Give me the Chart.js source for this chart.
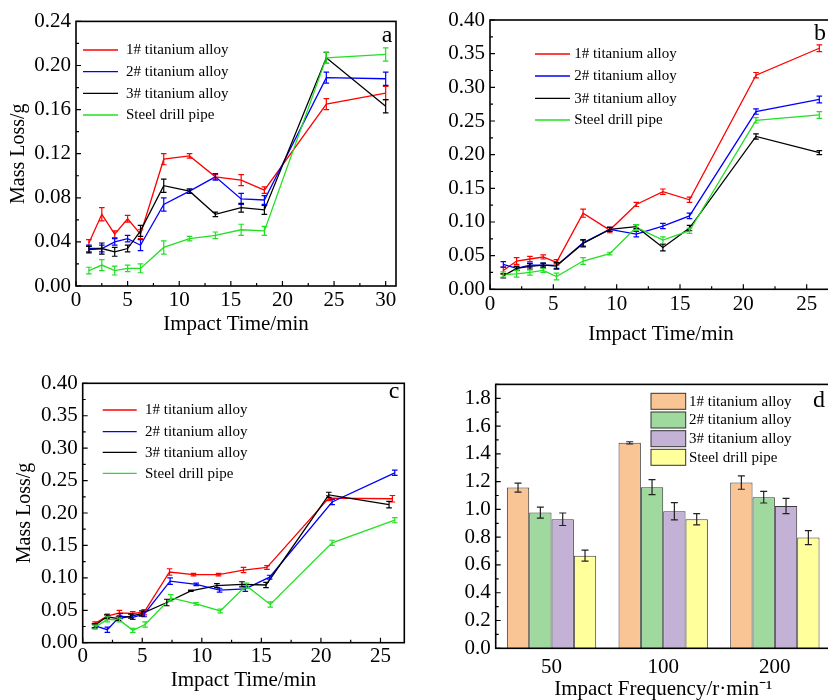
<!DOCTYPE html>
<html>
<head>
<meta charset="utf-8">
<script src="https://cdn.jsdelivr.net/npm/chart.js@4.4.1/dist/chart.umd.min.js"></script>
<style>
html,body{margin:0;padding:0;overflow:hidden;background:#fff;width:828px;height:700px;position:relative}
canvas{position:absolute}
</style>
</head>
<body>
<canvas id="cA" width="420" height="345" style="left:0;top:0"></canvas>
<canvas id="cB" width="430" height="350" style="left:420px;top:0"></canvas>
<canvas id="cC" width="420" height="340" style="left:0;top:360px"></canvas>
<canvas id="cD" width="420" height="345" style="left:430px;top:360px"></canvas>
<script>
// ---------------- DATA ----------------
const seriesNames = ['1# titanium alloy', '2# titanium alloy', '3# titanium alloy', 'Steel drill pipe'];
const lineColors = ['#ff0000', '#0000ff', '#000000', '#22e022'];
const barColors = ['#f9c595', '#9fd99d', '#c4b2d6', '#ffff9c'];

// Panel a
const timeA = [1.25, 2.5, 3.75, 5, 6.25, 8.5, 11, 13.5, 16, 18.25, 24.25, 30];
const lossA1 = [0.039, 0.065, 0.047, 0.061, 0.047, 0.115, 0.118, 0.099, 0.096, 0.087, 0.165, 0.175];
const lossA2 = [0.034, 0.034, 0.040, 0.043, 0.037, 0.074, 0.086, 0.099, 0.079, 0.078, 0.189, 0.188];
const lossA3 = [0.033, 0.034, 0.031, 0.034, 0.050, 0.091, 0.086, 0.065, 0.071, 0.069, 0.207, 0.163];
const lossA4 = [0.014, 0.019, 0.014, 0.016, 0.016, 0.035, 0.043, 0.046, 0.051, 0.050, 0.207, 0.210];
const errA1 = [0.003, 0.006, 0.003, 0.003, 0.004, 0.005, 0.002, 0.002, 0.005, 0.003, 0.005, 0.006];
const errA2 = [0.003, 0.003, 0.003, 0.003, 0.005, 0.006, 0.002, 0.003, 0.005, 0.004, 0.005, 0.006];
const errA3 = [0.003, 0.005, 0.004, 0.003, 0.005, 0.006, 0.002, 0.002, 0.004, 0.004, 0.005, 0.006];
const errA4 = [0.003, 0.005, 0.004, 0.003, 0.004, 0.006, 0.002, 0.003, 0.005, 0.004, 0.005, 0.006];

// Panel b
const timeB = [1.05, 2.1, 3.15, 4.2, 5.25, 7.35, 9.45, 11.55, 13.65, 15.75, 21, 26];
const lossB1 = [0.028, 0.042, 0.045, 0.048, 0.040, 0.113, 0.088, 0.126, 0.145, 0.133, 0.318, 0.358];
const lossB2 = [0.037, 0.031, 0.036, 0.036, 0.035, 0.069, 0.089, 0.082, 0.094, 0.109, 0.264, 0.282];
const lossB3 = [0.020, 0.031, 0.034, 0.036, 0.035, 0.068, 0.089, 0.093, 0.062, 0.091, 0.227, 0.203];
const lossB4 = [0.022, 0.023, 0.025, 0.028, 0.019, 0.042, 0.053, 0.092, 0.073, 0.087, 0.251, 0.259];
const errB1 = [0.005, 0.005, 0.004, 0.003, 0.004, 0.006, 0.004, 0.003, 0.004, 0.004, 0.004, 0.005];
const errB2 = [0.004, 0.003, 0.003, 0.003, 0.004, 0.005, 0.003, 0.004, 0.004, 0.004, 0.004, 0.005];
const errB3 = [0.003, 0.003, 0.004, 0.003, 0.005, 0.005, 0.003, 0.003, 0.005, 0.004, 0.004, 0.003];
const errB4 = [0.004, 0.005, 0.004, 0.003, 0.005, 0.005, 0.002, 0.004, 0.005, 0.004, 0.004, 0.005];

// Panel c
const timeC1 = [1.04, 2.07, 3.08, 4.2, 5.16, 7.29, 9.3, 11.41, 13.5, 15.47, 20.66, 26.0];
const timeC2 = [1.04, 2.07, 3.14, 4.2, 5.16, 7.34, 9.53, 11.49, 13.65, 15.69, 20.94, 26.2];
const timeC3 = [0.98, 2.02, 3.0, 4.04, 4.96, 7.06, 9.08, 11.27, 13.37, 15.39, 20.66, 25.72];
const timeC4 = [1.04, 2.07, 3.08, 4.2, 5.24, 7.4, 9.53, 11.55, 13.73, 15.75, 20.94, 26.2];
const lossC1 = [0.030, 0.041, 0.046, 0.045, 0.047, 0.109, 0.105, 0.105, 0.112, 0.116, 0.223, 0.222];
const lossC2 = [0.026, 0.020, 0.041, 0.039, 0.044, 0.095, 0.090, 0.081, 0.083, 0.101, 0.217, 0.262];
const lossC3 = [0.026, 0.040, 0.037, 0.041, 0.045, 0.062, 0.080, 0.088, 0.090, 0.089, 0.228, 0.213];
const lossC4 = [0.024, 0.036, 0.035, 0.019, 0.028, 0.069, 0.060, 0.049, 0.088, 0.059, 0.154, 0.189];
const errC1 = [0.002, 0.003, 0.004, 0.003, 0.004, 0.005, 0.002, 0.002, 0.004, 0.003, 0.004, 0.005];
const errC2 = [0.003, 0.004, 0.004, 0.003, 0.004, 0.005, 0.002, 0.003, 0.004, 0.003, 0.004, 0.004];
const errC3 = [0.003, 0.003, 0.003, 0.003, 0.004, 0.005, 0.001, 0.003, 0.004, 0.004, 0.004, 0.005];
const errC4 = [0.003, 0.004, 0.003, 0.003, 0.004, 0.005, 0.002, 0.003, 0.004, 0.004, 0.004, 0.004];

// Panel d
const freqLabels = ['50', '100', '200'];
const massD1 = [1.157, 1.479, 1.193];
const massD2 = [0.977, 1.160, 1.088];
const massD3 = [0.929, 0.987, 1.025];
const massD4 = [0.667, 0.929, 0.797];
const errD1 = [0.032, 0.008, 0.048];
const errD2 = [0.040, 0.054, 0.042];
const errD3 = [0.045, 0.062, 0.055];
const errD4 = [0.040, 0.040, 0.050];

const xTitle = 'Impact Time/min';
const yTitle = 'Mass Loss/g';
const xTitleD = 'Impact Frequency/r\u00B7min\u207B\u00B9';

// ---------------- RENDERING ----------------
const FONT = "'Liberation Serif','Times New Roman',serif";
Chart.defaults.font.family = FONT;
Chart.defaults.color = '#000';

const deco = {
  id: 'deco',
  afterDatasetsDraw(chart, args, o) {
    const ctx = chart.ctx;
    chart.data.datasets.forEach((ds, di) => {
      if (!ds.errs) return;
      const meta = chart.getDatasetMeta(di);
      const ys = chart.scales[meta.yAxisID];
      ctx.save();
      ctx.strokeStyle = ds.errColor || ds.borderColor;
      ctx.lineWidth = 1.2;
      ctx.beginPath();
      meta.data.forEach((el, i) => {
        const d = ds.data[i];
        const v = (typeof d === 'object') ? d.y : d;
        const e = ds.errs[i];
        const y1 = ys.getPixelForValue(v + e), y2 = ys.getPixelForValue(v - e);
        const x = el.x, c = o.cap;
        ctx.moveTo(x, y1); ctx.lineTo(x, y2);
        ctx.moveTo(x - c, y1); ctx.lineTo(x + c, y1);
        ctx.moveTo(x - c, y2); ctx.lineTo(x + c, y2);
      });
      ctx.stroke();
      ctx.restore();
    });
  },
  afterDraw(chart, args, o) {
    const ctx = chart.ctx;
    const {left, right, top, bottom} = chart.chartArea;
    const xs = chart.scales.x, ys = chart.scales.y;
    ctx.save();
    ctx.strokeStyle = '#000';
    ctx.lineWidth = 1.6;
    ctx.strokeRect(left, top, right - left, bottom - top);
    ctx.lineWidth = 1.2;
    ctx.beginPath();
    if (o.xMinor) {
      for (let k = 0; ; k++) {
        const v = xs.min + k * o.xMinor;
        if (v > xs.max + 1e-9) break;
        const px = xs.getPixelForValue(v);
        const major = Math.abs(v / o.xMajor - Math.round(v / o.xMajor)) < 1e-6;
        ctx.moveTo(px, bottom); ctx.lineTo(px, bottom - (major ? 5 : 3));
      }
    }
    for (let k = 0; ; k++) {
      const v = ys.min + k * o.yMinor;
      if (v > ys.max + 1e-9) break;
      const py = ys.getPixelForValue(v);
      const major = Math.abs(v / o.yMajor - Math.round(v / o.yMajor)) < 1e-6;
      ctx.moveTo(left, py); ctx.lineTo(left + (major ? 5 : 3), py);
    }
    ctx.stroke();
    // legend
    const L = o.legend;
    ctx.font = '15px ' + FONT;
    ctx.textBaseline = 'middle';
    ctx.textAlign = 'left';
    chart.data.datasets.forEach((ds, i) => {
      const y = L.rows[i];
      if (L.type === 'line') {
        ctx.strokeStyle = ds.borderColor;
        ctx.lineWidth = 1.3;
        ctx.beginPath(); ctx.moveTo(L.x1, y); ctx.lineTo(L.x2, y); ctx.stroke();
      } else {
        ctx.fillStyle = ds.backgroundColor;
        ctx.fillRect(L.x1, y - L.h / 2, L.x2 - L.x1, L.h);
        ctx.strokeStyle = '#333';
        ctx.lineWidth = 1;
        ctx.strokeRect(L.x1, y - L.h / 2, L.x2 - L.x1, L.h);
      }
      ctx.fillStyle = '#000';
      ctx.fillText(ds.label, L.tx, y + 0.5);
    });
    // panel tag
    ctx.font = '24px ' + FONT;
    ctx.textAlign = 'center';
    ctx.textBaseline = 'alphabetic';
    ctx.fillStyle = '#000';
    ctx.fillText(o.tag, o.tagX, o.tagY);
    ctx.restore();
  }
};

function lineDatasets(xs, ys, errs) {
  return ys.map((arr, i) => ({
    label: seriesNames[i],
    data: arr.map((v, j) => ({x: xs[i][j], y: v})),
    errs: errs[i],
    borderColor: lineColors[i],
    backgroundColor: lineColors[i],
    borderWidth: 1.3,
    pointRadius: 0,
    tension: 0,
    showLine: true,
    order: 3 - i
  }));
}

function lineChart(id, cfg) {
  return new Chart(document.getElementById(id), {
    type: 'line',
    data: {datasets: lineDatasets(cfg.xs, cfg.ys, cfg.errs)},
    plugins: [deco],
    options: {
      responsive: false, animation: false, devicePixelRatio: 1,
      layout: {padding: cfg.pad},
      plugins: {
        legend: {display: false}, tooltip: {enabled: false},
        deco: Object.assign({cap: 2.8, xMajor: 5, xMinor: 2.5}, cfg.deco)
      },
      scales: {
        x: {
          type: 'linear', min: 0, max: cfg.xMax,
          grid: {display: false, drawTicks: false}, border: {display: false},
          ticks: {stepSize: 5, includeBounds: false, padding: cfg.xPad, font: {size: 21},
                  callback: v => String(Math.round(v)), maxRotation: 0},
          title: {display: true, text: xTitle, font: {size: 21}, padding: {top: 0, bottom: 0}},
          afterFit: s => { s.height = cfg.xH; }
        },
        y: {
          min: 0, max: cfg.yMax,
          grid: {display: false, drawTicks: false}, border: {display: false},
          ticks: {stepSize: cfg.yStep, includeBounds: false, padding: 5, font: {size: 21},
                  callback: v => Number(v).toFixed(2)},
          title: {display: !!cfg.yTitlePad, text: yTitle, font: {size: 20},
                  padding: {top: cfg.yTitlePad || 0, bottom: 0}},
          afterFit: s => { s.width = cfg.yW; }
        }
      }
    }
  });
}

lineChart('cA', {
  xs: [timeA, timeA, timeA, timeA],
  ys: [lossA1, lossA2, lossA3, lossA4],
  errs: [errA1, errA2, errA3, errA4],
  pad: {left: 0, top: 21.4, right: 24, bottom: 8.4},
  xMax: 31, yMax: 0.24, yStep: 0.04, xPad: 2, xH: 50.6, yW: 76, yTitlePad: 6.3,
  deco: {yMajor: 0.04, yMinor: 0.02, tag: 'a', tagX: 387, tagY: 42,
         legend: {type: 'line', x1: 83, x2: 118, tx: 126, rows: [50, 71.7, 93.3, 115]}}
});

lineChart('cB', {
  xs: [timeB, timeB, timeB, timeB],
  ys: [lossB1, lossB2, lossB3, lossB4],
  errs: [errB1, errB2, errB3, errB4],
  pad: {left: 0, top: 20, right: 18, bottom: 3.4},
  xMax: 27, yMax: 0.40, yStep: 0.05, xPad: 3, xH: 57.3, yW: 70, yTitlePad: 0,
  deco: {yMajor: 0.05, yMinor: 0.025, tag: 'b', tagX: 400, tagY: 40,
         legend: {type: 'line', x1: 115, x2: 150, tx: 154.3, rows: [54, 76, 98.3, 120]}}
});

lineChart('cC', {
  xs: [timeC1, timeC2, timeC3, timeC4],
  ys: [lossC1, lossC2, lossC3, lossC4],
  errs: [errC1, errC2, errC3, errC4],
  pad: {left: 0, top: 23.3, right: 15.7, bottom: 7.4},
  xMax: 27, yMax: 0.40, yStep: 0.05, xPad: 1.5, xH: 49.9, yW: 82.7, yTitlePad: 12.7,
  deco: {yMajor: 0.05, yMinor: 0.025, tag: 'c', tagX: 394, tagY: 38,
         legend: {type: 'line', x1: 102.7, x2: 136.7, tx: 145, rows: [50, 71.7, 92.3, 113.3]}}
});

new Chart(document.getElementById('cD'), {
  type: 'bar',
  data: {
    labels: freqLabels,
    datasets: [massD1, massD2, massD3, massD4].map((arr, i) => ({
      label: seriesNames[i],
      data: arr,
      errs: [errD1, errD2, errD3, errD4][i],
      errColor: '#222',
      backgroundColor: barColors[i],
      borderColor: '#3a3a3a',
      borderWidth: 1,
      categoryPercentage: 0.8,
      barPercentage: 1.0
    }))
  },
  plugins: [deco],
  options: {
    responsive: false, animation: false, devicePixelRatio: 1,
    layout: {padding: {left: 0, top: 24.4, right: 19.3, bottom: 3.4}},
    plugins: {
      legend: {display: false}, tooltip: {enabled: false},
      deco: {cap: 3.5, xMinor: 0, yMajor: 0.2, yMinor: 0.1, tag: 'd', tagX: 389, tagY: 46.7,
             legend: {type: 'box', x1: 221, x2: 255.7, h: 16, tx: 259, rows: [41.3, 60, 78.7, 97.3]}}
    },
    scales: {
      x: {
        grid: {display: false, drawTicks: false}, border: {display: false},
        ticks: {padding: 7, font: {size: 21}},
        title: {display: true, text: xTitleD, font: {size: 21}, padding: {top: 0, bottom: 0}},
        afterFit: s => { s.height = 53.3; }
      },
      y: {
        min: 0, max: 1.9,
        grid: {display: false, drawTicks: false}, border: {display: false},
        ticks: {stepSize: 0.2, includeBounds: false, padding: 5, font: {size: 21},
                callback: v => Number(v).toFixed(1)},
        afterFit: s => { s.width = 65.7; }
      }
    }
  }
});
</script>
</body>
</html>
